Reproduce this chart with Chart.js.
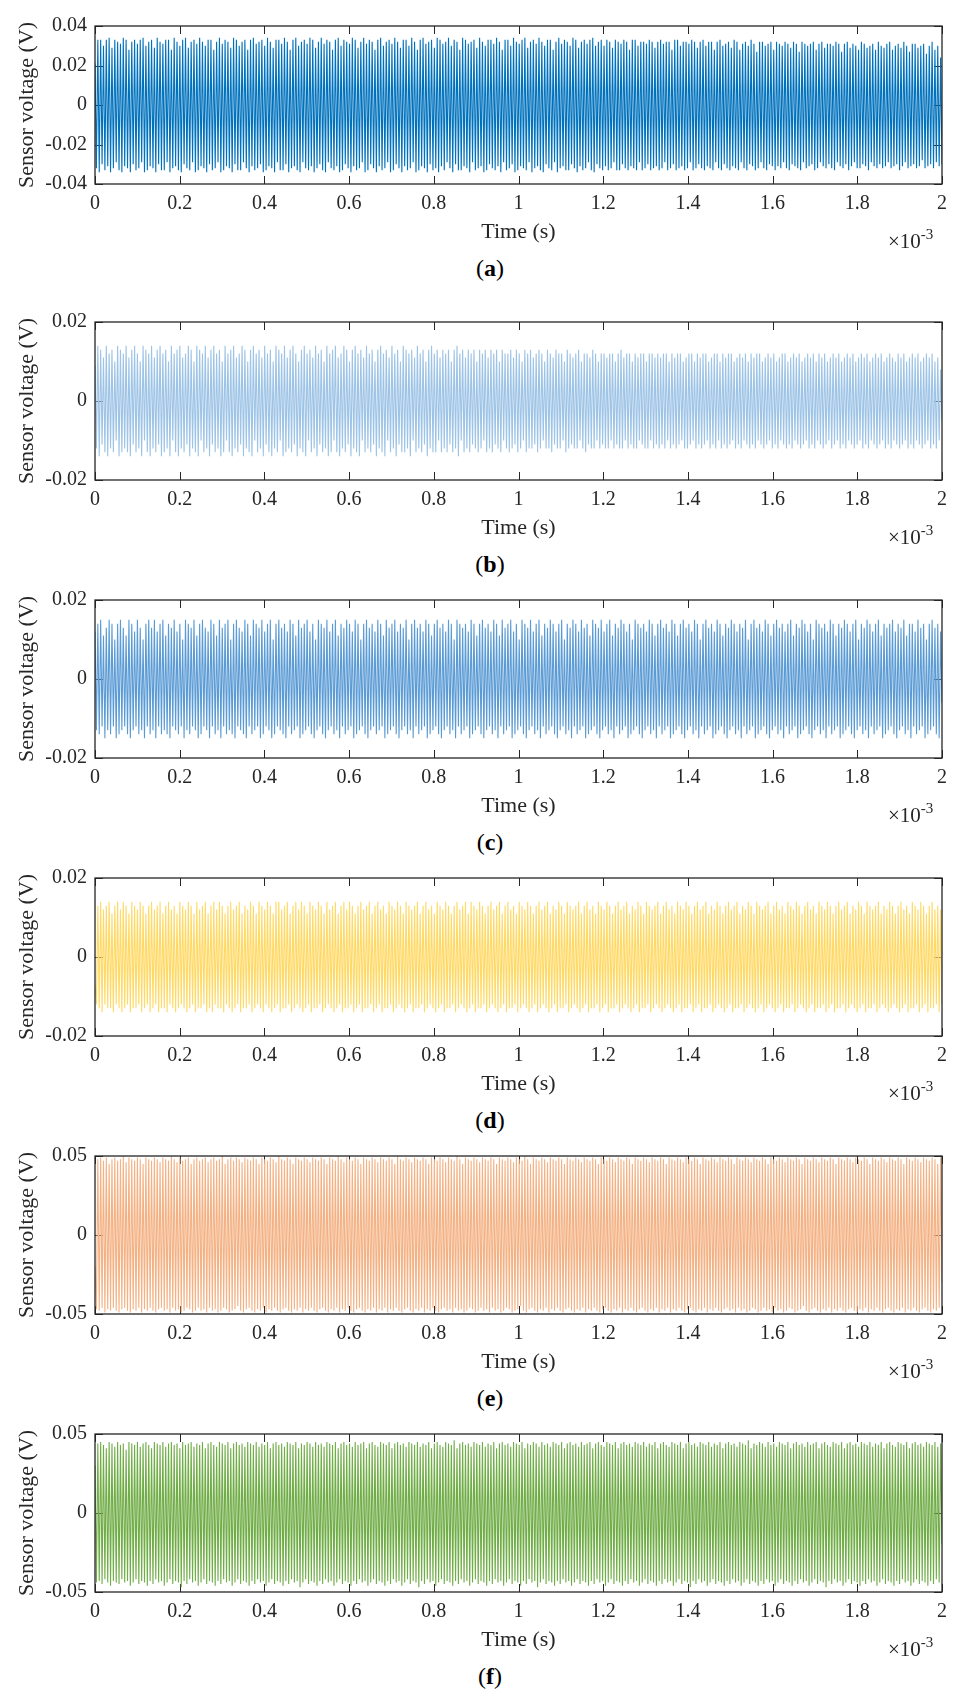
<!DOCTYPE html>
<html>
<head>
<meta charset="utf-8">
<script src="https://cdn.jsdelivr.net/npm/chart.js@4.4.1/dist/chart.umd.min.js"></script>
<style>
  body { margin: 0; background: #fff; width: 955px; height: 1693px; position: relative; overflow: hidden; font-family: 'Liberation Serif', 'Times New Roman', serif; color: #262626; }
  canvas { position: absolute; left: 0; }
  .exp { position: absolute; left: 888px; font-size: 21px; line-height: 24px; }
  .exp sup { font-size: 15px; position: relative; top: -1px; }
  .cap { position: absolute; left: 390px; width: 200px; text-align: center; font-size: 24px; line-height: 28px; color: #000; }
</style>
</head>
<body>
<script>
// time axis in units of 1e-3 s
const timeMax = 2;
const xTicks = [0, 0.2, 0.4, 0.6, 0.8, 1, 1.2, 1.4, 1.6, 1.8, 2];
const yTicksA = [-0.04, -0.02, 0, 0.02, 0.04];
const yTicksSmall = [-0.02, 0, 0.02];
const yTicksBig = [-0.05, 0, 0.05];
const captions = ['a', 'b', 'c', 'd', 'e', 'f'];
const colors = ['#0072BD', '#9DC3E6', '#5B9BD5', '#FFD966', '#F4B183', '#70AD47'];

// peak (hi) and trough (lo) values of each cycle, in mV
const hiA = [21,33,33,30,33,34,29,33,32,31,34,33,28,32,33,31,33,34,30,32,
  33,29,34,32,31,33,33,28,34,32,30,33,34,29,32,33,31,34,32,30,
  33,33,28,32,34,31,33,32,29,34,33,30,32,33,28,33,34,31,32,33,
  30,34,32,29,33,33,31,34,32,28,33,34,30,32,33,31,34,33,29,32,
  34,31,33,32,28,33,34,30,33,32,31,34,33,29,32,34,31,33,32,28,
  33,34,30,32,33,31,34,32,29,33,33,30,34,32,28,33,34,31,32,33,
  29,34,33,31,32,34,30,33,32,28,34,33,31,32,33,29,34,32,30,33,
  33,31,34,32,28,33,33,30,34,32,31,33,34,29,32,33,31,34,32,30,
  33,33,28,32,34,31,33,32,30,34,33,29,32,33,31,33,34,30,32,33,
  30,33,32,29,33,32,31,33,32,28,33,33,30,32,32,31,33,32,29,32,
  33,31,32,32,28,33,33,30,32,32,31,33,32,29,32,33,30,32,32,28,
  32,33,30,31,32,29,33,32,28,31,32,30,33,31,27,32,32,30,31,32,
  28,32,31,30,32,31,29,32,31,27,32,31,30,31,32,28,31,32,29,31,
  31,30,32,31,27,31,32,29,31,30,28,32,31,29,30,31,28,32,30,29,
  31,32,28,30,31,29,32,30,27,31,31,29,30,31,26,30,32,28,30,24];
const loA = [-32,-34,-30,-33,-31,-34,-32,-29,-33,-34,-31,-32,-34,-30,-33,-32,-29,-34,-33,-31,
  -32,-34,-30,-33,-33,-29,-34,-32,-31,-33,-34,-30,-32,-33,-29,-34,-33,-31,-32,-34,
  -30,-33,-32,-29,-34,-33,-31,-32,-34,-30,-33,-33,-29,-32,-34,-31,-33,-32,-30,-34,
  -33,-31,-32,-34,-29,-33,-33,-30,-34,-32,-31,-33,-34,-29,-32,-33,-31,-34,-32,-30,
  -33,-34,-29,-32,-33,-31,-34,-33,-30,-32,-34,-31,-33,-32,-29,-34,-33,-30,-32,-34,
  -31,-33,-32,-29,-34,-33,-30,-32,-34,-31,-33,-32,-29,-34,-33,-31,-32,-34,-30,-33,
  -32,-34,-31,-33,-29,-32,-34,-30,-33,-33,-31,-32,-34,-29,-33,-32,-31,-34,-33,-30,
  -32,-33,-31,-34,-29,-33,-32,-30,-34,-33,-31,-32,-33,-29,-34,-32,-31,-33,-34,-30,
  -32,-33,-29,-34,-32,-31,-33,-33,-30,-32,-34,-31,-33,-32,-29,-33,-34,-30,-32,-33,
  -31,-33,-32,-29,-33,-33,-30,-32,-33,-31,-32,-33,-29,-33,-32,-30,-33,-32,-31,-33,
  -32,-29,-33,-32,-30,-33,-32,-31,-33,-32,-29,-33,-32,-30,-32,-33,-31,-32,-33,-29,
  -32,-33,-30,-32,-33,-31,-32,-33,-29,-32,-33,-30,-31,-33,-32,-29,-32,-33,-30,-31,
  -33,-31,-32,-29,-32,-33,-30,-31,-32,-33,-29,-32,-31,-30,-33,-32,-29,-31,-32,-30,
  -32,-33,-29,-31,-32,-30,-33,-31,-29,-32,-32,-30,-31,-33,-29,-31,-32,-30,-32,-31,
  -29,-32,-31,-30,-33,-31,-29,-32,-31,-30,-32,-31,-28,-32,-31,-30,-32,-29,-31,-30];

const hiB = [9,14,13,11,14,12,13,10,14,13,12,14,11,13,14,12,10,14,13,12,
  14,11,13,14,12,13,10,14,12,13,14,11,12,14,13,10,14,13,12,14,
  11,13,14,12,13,10,14,12,13,14,11,12,14,13,10,13,14,12,13,11,
  14,12,13,10,14,13,12,14,11,13,14,12,10,13,14,12,13,11,14,12,
  13,10,14,12,13,14,11,12,14,13,10,13,14,12,13,11,14,12,13,10,
  13,14,12,13,11,14,12,13,10,14,13,12,13,11,14,12,13,10,13,14,
  12,13,11,13,12,13,10,13,14,12,13,11,13,12,13,10,13,12,13,11,
  13,12,13,10,13,12,12,13,11,13,12,10,13,12,13,11,12,13,12,10,
  13,12,11,13,12,12,10,13,12,11,12,13,10,12,12,11,13,12,10,12,
  12,11,12,12,10,12,13,11,12,12,10,12,11,12,12,10,12,12,11,12,
  11,12,12,10,12,11,12,12,10,11,12,12,10,12,11,12,12,10,11,12,
  12,10,12,11,12,12,10,11,12,11,12,10,12,11,12,12,10,11,12,11,
  12,10,11,12,12,10,11,12,11,12,10,11,12,11,12,10,12,11,12,10,
  11,12,11,12,10,11,12,11,12,10,11,12,11,12,10,11,12,11,12,10,
  11,12,11,10,12,11,12,10,11,12,11,12,10,11,12,11,12,10,11,8];
const loB = [-12,-14,-11,-13,-14,-12,-13,-10,-14,-13,-12,-13,-14,-11,-13,-12,-14,-10,-13,-14,
  -12,-13,-11,-14,-13,-12,-14,-10,-13,-14,-12,-13,-11,-14,-12,-13,-14,-10,-13,-12,
  -14,-11,-13,-12,-14,-13,-10,-13,-14,-12,-13,-11,-14,-12,-13,-14,-10,-13,-12,-14,
  -11,-13,-14,-12,-13,-10,-14,-13,-12,-13,-11,-14,-12,-13,-14,-10,-13,-12,-14,-11,
  -13,-12,-14,-13,-10,-13,-14,-12,-13,-11,-14,-12,-13,-14,-10,-13,-12,-13,-11,-14,
  -12,-13,-14,-10,-13,-12,-14,-11,-13,-13,-12,-14,-10,-13,-12,-13,-11,-14,-12,-13,
  -13,-10,-13,-12,-13,-11,-13,-12,-14,-10,-13,-12,-13,-11,-12,-13,-12,-10,-13,-12,
  -13,-11,-12,-13,-10,-12,-13,-12,-11,-13,-12,-10,-13,-12,-12,-11,-13,-12,-10,-12,
  -12,-13,-11,-12,-12,-10,-13,-12,-11,-12,-12,-10,-12,-13,-11,-12,-12,-10,-12,-11,
  -12,-12,-10,-12,-11,-12,-12,-10,-12,-11,-12,-12,-10,-11,-12,-12,-10,-12,-11,-12,
  -11,-12,-10,-12,-11,-12,-11,-10,-12,-12,-11,-10,-12,-11,-12,-11,-10,-12,-11,-12,
  -10,-12,-11,-12,-11,-10,-12,-11,-12,-10,-11,-12,-11,-12,-10,-11,-12,-11,-10,-12,
  -11,-12,-10,-11,-12,-11,-12,-10,-11,-12,-11,-10,-12,-11,-12,-10,-11,-12,-11,-10,
  -12,-11,-10,-12,-11,-12,-10,-11,-12,-11,-10,-12,-11,-12,-10,-11,-12,-11,-10,-12,
  -11,-12,-10,-11,-12,-11,-10,-12,-11,-12,-10,-11,-12,-11,-10,-12,-11,-12,-10,-5];

const hiC = [12,14,15,11,13,15,14,10,14,15,13,11,15,14,12,15,13,10,14,15,
  13,15,12,14,15,11,14,13,15,12,14,10,15,14,13,15,11,14,15,13,
  12,15,14,11,15,13,14,15,10,14,15,13,12,15,14,11,15,14,13,15,
  12,14,15,10,14,15,13,14,12,15,14,11,15,13,14,15,12,14,10,15,
  14,13,15,12,14,15,11,14,13,15,14,12,15,14,10,14,15,13,14,12,
  15,14,11,15,13,14,15,12,14,13,15,10,14,15,13,14,12,15,14,11,
  14,15,13,14,12,15,14,10,15,14,13,14,12,15,14,11,14,15,13,14,
  12,15,14,11,15,13,14,15,12,14,10,15,14,13,15,12,14,15,11,14,
  13,15,14,12,14,15,10,14,13,15,14,12,15,13,14,11,15,14,13,15,
  12,14,15,11,14,13,15,14,12,14,10,15,14,13,14,12,15,14,11,14,
  15,13,14,12,15,14,11,14,15,13,14,12,15,14,10,14,15,13,14,12,
  15,14,11,14,13,15,14,12,14,13,15,10,14,15,13,14,12,15,14,11,
  14,15,13,14,12,14,15,11,14,13,15,14,12,14,10,15,14,13,14,12,
  15,14,11,14,13,15,14,12,14,15,10,14,13,15,14,12,14,15,11,14,
  13,14,15,12,14,13,15,11,14,14,12,15,13,14,10,14,15,13,14,12];
const loC = [-13,-14,-12,-15,-13,-14,-12,-15,-14,-13,-12,-14,-15,-13,-12,-14,-13,-15,-12,-14,
  -13,-15,-12,-14,-13,-14,-15,-12,-13,-14,-12,-15,-13,-14,-12,-13,-15,-14,-12,-13,
  -15,-12,-14,-13,-15,-12,-14,-13,-14,-15,-12,-13,-14,-15,-12,-14,-13,-12,-15,-14,
  -12,-13,-15,-14,-12,-13,-14,-15,-12,-14,-13,-12,-15,-14,-13,-12,-14,-15,-13,-12,
  -14,-15,-13,-12,-14,-13,-15,-12,-14,-13,-12,-15,-14,-13,-12,-14,-15,-13,-12,-14,
  -13,-12,-15,-14,-13,-12,-14,-15,-13,-12,-14,-13,-15,-12,-14,-13,-12,-15,-14,-13,
  -12,-14,-15,-13,-12,-14,-13,-15,-12,-14,-13,-12,-15,-14,-13,-12,-14,-15,-13,-12,
  -14,-13,-15,-12,-14,-13,-12,-15,-14,-13,-12,-14,-15,-13,-12,-14,-13,-15,-12,-14,
  -13,-12,-14,-15,-13,-12,-14,-13,-15,-12,-14,-13,-12,-15,-14,-13,-12,-14,-15,-13,
  -12,-14,-13,-15,-12,-14,-13,-12,-15,-14,-13,-12,-14,-15,-13,-12,-14,-13,-15,-12,
  -14,-13,-12,-15,-14,-13,-12,-14,-15,-13,-12,-14,-13,-15,-12,-14,-13,-12,-15,-14,
  -13,-12,-14,-15,-13,-12,-14,-13,-15,-12,-14,-13,-12,-15,-14,-13,-12,-14,-15,-13,
  -12,-14,-13,-15,-12,-14,-13,-12,-15,-14,-13,-12,-14,-15,-13,-12,-14,-13,-15,-12,
  -14,-13,-12,-15,-14,-13,-12,-14,-15,-13,-12,-14,-13,-15,-12,-14,-13,-12,-15,-14,
  -13,-12,-14,-15,-13,-12,-14,-13,-15,-12,-14,-13,-12,-15,-14,-13,-12,-14,-15,-6];

const hiD = [-7,13,14,12,13,14,11,13,14,12,14,13,11,14,13,12,14,13,11,13,
  14,12,13,14,11,13,14,12,13,11,14,13,12,14,13,11,14,12,13,14,
  11,13,14,12,14,13,11,13,14,12,13,14,11,13,12,14,13,11,14,13,
  12,14,13,11,14,14,12,13,14,11,13,14,12,14,13,11,14,13,12,14,
  13,11,14,12,13,14,11,13,14,12,14,13,11,13,14,12,13,14,11,13,
  14,12,13,11,14,13,12,14,13,11,14,13,12,13,14,11,13,14,12,13,
  11,14,13,12,14,13,11,13,14,12,13,14,11,14,13,12,14,13,11,13,
  14,12,13,14,11,13,14,12,13,11,14,13,12,14,13,11,13,14,12,13,
  14,11,13,12,14,13,11,14,13,12,13,14,11,13,14,12,13,11,14,13,
  12,14,13,11,13,14,12,13,14,11,13,12,14,13,11,14,13,12,13,14,
  11,13,14,12,13,11,14,13,12,14,13,11,13,14,12,13,14,11,13,12,
  14,13,11,13,14,12,13,14,11,13,12,14,13,11,14,13,12,13,14,11,
  13,14,12,13,11,14,13,12,14,13,11,13,14,12,13,11,14,13,12,14,
  13,11,13,14,12,13,14,11,13,12,14,13,11,14,13,12,13,14,11,13,
  12,14,13,11,13,14,12,13,11,14,13,12,14,13,11,13,14,12,13,12];
const loD = [-12,-13,-14,-12,-13,-13,-14,-12,-13,-14,-13,-12,-14,-13,-13,-12,-14,-13,-12,-14,
  -13,-12,-14,-13,-13,-14,-12,-13,-14,-13,-12,-13,-14,-13,-12,-14,-13,-13,-12,-14,
  -13,-14,-12,-13,-13,-14,-12,-13,-14,-13,-12,-14,-13,-13,-12,-14,-13,-12,-13,-14,
  -12,-13,-14,-13,-12,-14,-13,-13,-12,-14,-13,-12,-13,-14,-13,-12,-14,-13,-13,-12,
  -14,-13,-12,-13,-14,-13,-12,-14,-13,-13,-12,-14,-13,-12,-14,-13,-13,-12,-14,-13,
  -12,-14,-13,-13,-12,-14,-13,-12,-13,-14,-13,-12,-14,-13,-13,-12,-14,-13,-12,-13,
  -14,-13,-12,-14,-13,-13,-12,-14,-13,-12,-13,-14,-13,-12,-14,-13,-13,-12,-14,-13,
  -12,-13,-14,-13,-12,-14,-13,-13,-12,-14,-13,-12,-13,-14,-13,-12,-14,-13,-12,-13,
  -14,-13,-12,-14,-13,-13,-12,-14,-13,-12,-13,-14,-13,-12,-14,-13,-13,-12,-14,-13,
  -12,-14,-13,-13,-12,-14,-13,-12,-13,-14,-13,-12,-14,-13,-13,-12,-14,-13,-12,-13,
  -14,-13,-12,-13,-14,-13,-12,-14,-13,-13,-12,-14,-13,-12,-14,-13,-13,-12,-14,-13,
  -12,-13,-14,-13,-12,-14,-13,-13,-12,-14,-13,-12,-13,-14,-13,-12,-14,-13,-12,-13,
  -14,-13,-12,-14,-13,-13,-12,-14,-13,-12,-13,-14,-13,-12,-14,-13,-13,-12,-14,-13,
  -12,-14,-13,-13,-12,-14,-13,-12,-13,-14,-13,-12,-14,-13,-13,-12,-14,-13,-12,-13,
  -14,-13,-12,-13,-14,-13,-12,-14,-13,-13,-12,-14,-13,-12,-14,-13,-13,-12,-14,-12];

const hiE = [-20,48,49,47,49,45,48,49,47,48,50,46,49,48,47,49,48,45,49,48,
  47,49,48,46,49,48,47,50,48,46,49,47,48,49,45,48,49,47,48,49,
  46,48,49,47,48,50,45,48,49,47,49,48,46,49,48,47,49,48,45,49,
  48,47,49,48,46,50,48,47,49,48,45,49,48,47,49,48,46,49,48,47,
  49,48,45,49,48,47,50,48,46,49,48,47,49,48,45,49,48,47,49,48,
  46,49,48,47,49,48,45,50,48,47,49,48,46,49,48,47,49,48,45,49,
  48,47,49,48,46,49,48,47,50,48,45,49,48,47,49,48,46,49,48,47,
  49,48,45,49,48,47,49,48,46,49,48,47,50,48,45,49,48,47,49,48,
  46,49,48,47,49,48,45,49,48,47,49,48,46,49,48,47,49,48,45,49,
  48,47,49,48,46,49,48,47,49,48,45,49,48,47,49,48,46,49,48,47,
  49,48,45,49,48,47,49,48,46,49,48,47,49,48,45,49,48,47,49,48,
  46,49,48,47,49,48,45,49,48,47,49,48,46,49,48,47,49,48,45,49,
  48,47,49,48,46,49,48,47,49,48,45,49,48,47,49,48,46,49,48,47,
  49,48,45,49,48,47,49,48,46,49,48,47,49,48,45,49,48,47,49,48,
  46,49,48,47,49,48,45,49,48,47,49,48,46,49,48,47,49,48,45,49];
const loE = [-47,-48,-46,-49,-47,-48,-46,-48,-49,-47,-46,-48,-49,-47,-48,-46,-49,-47,-48,-46,
  -48,-49,-47,-46,-48,-47,-49,-46,-48,-47,-49,-48,-46,-47,-49,-48,-46,-48,-47,-49,
  -46,-48,-47,-49,-48,-46,-47,-49,-48,-47,-45,-48,-49,-47,-46,-48,-49,-47,-48,-46,
  -49,-47,-48,-46,-48,-49,-47,-46,-48,-49,-47,-48,-46,-49,-47,-48,-46,-48,-49,-47,
  -46,-48,-49,-47,-48,-46,-49,-47,-48,-46,-48,-49,-47,-46,-48,-49,-47,-48,-46,-49,
  -47,-48,-46,-49,-47,-48,-46,-48,-49,-47,-46,-48,-49,-47,-48,-46,-49,-47,-48,-46,
  -48,-49,-47,-46,-48,-47,-49,-46,-48,-47,-49,-48,-46,-47,-49,-48,-46,-48,-47,-49,
  -46,-48,-47,-49,-48,-46,-47,-49,-48,-47,-45,-48,-49,-47,-46,-48,-49,-47,-48,-46,
  -49,-47,-48,-46,-48,-49,-47,-46,-48,-49,-47,-48,-46,-49,-47,-48,-46,-48,-49,-47,
  -46,-48,-49,-47,-48,-46,-49,-47,-48,-46,-48,-49,-47,-46,-48,-49,-47,-48,-46,-49,
  -47,-48,-46,-49,-47,-48,-46,-48,-49,-47,-46,-48,-49,-47,-48,-46,-49,-47,-48,-46,
  -48,-49,-47,-46,-48,-47,-49,-46,-48,-47,-49,-48,-46,-47,-49,-48,-46,-48,-47,-49,
  -46,-48,-47,-49,-48,-46,-47,-49,-48,-47,-45,-48,-49,-47,-46,-48,-49,-47,-48,-46,
  -49,-47,-48,-46,-48,-49,-47,-46,-48,-49,-47,-48,-46,-49,-47,-48,-46,-48,-49,-47,
  -46,-48,-49,-47,-48,-46,-49,-47,-48,-46,-48,-49,-47,-46,-48,-49,-47,-48,-46,-30];

const hiF = [30,44,45,43,41,45,44,42,45,43,44,40,45,44,43,45,42,44,45,43,
  41,45,44,43,45,42,44,45,43,44,41,45,43,44,45,42,44,43,45,41,
  44,45,43,42,45,44,43,45,41,44,45,43,44,42,45,44,43,45,42,44,
  43,45,41,44,45,43,44,42,45,44,43,45,41,44,43,45,44,42,45,43,
  44,42,45,44,43,45,41,44,45,43,44,42,45,43,44,45,41,44,45,43,
  42,45,44,43,45,41,44,45,43,44,42,45,44,43,45,42,44,43,45,41,
  44,45,43,42,45,44,43,46,41,44,45,43,44,42,45,44,43,45,42,44,
  43,45,41,44,45,43,44,42,45,44,43,45,41,44,43,45,44,42,45,43,
  44,42,45,44,43,45,41,44,45,43,44,42,45,43,44,45,41,44,45,43,
  42,45,44,43,45,41,44,45,43,44,42,45,44,43,45,42,44,43,45,41,
  44,45,43,42,45,44,43,45,41,44,45,43,44,42,45,44,43,45,42,44,
  43,45,41,44,45,43,44,42,45,44,43,46,41,44,43,45,44,42,45,43,
  44,42,45,44,43,45,41,44,45,43,44,42,45,43,44,45,41,44,45,43,
  42,45,44,43,45,41,44,45,43,44,42,45,44,43,45,42,44,43,45,41,
  44,45,43,42,45,44,43,45,41,44,45,43,44,42,45,44,43,45,42,44];
const loF = [-44,-43,-45,-42,-44,-46,-43,-44,-45,-42,-44,-43,-46,-44,-42,-45,-43,-44,-46,-43,
  -45,-42,-44,-43,-46,-44,-42,-45,-43,-44,-47,-43,-45,-42,-44,-43,-46,-44,-42,-45,
  -43,-44,-46,-43,-45,-42,-44,-43,-46,-44,-42,-45,-43,-44,-46,-43,-45,-42,-44,-43,
  -46,-44,-42,-45,-43,-44,-46,-43,-45,-42,-44,-43,-47,-44,-42,-45,-43,-44,-46,-43,
  -45,-42,-44,-43,-46,-44,-42,-45,-43,-44,-46,-43,-45,-42,-44,-43,-46,-44,-42,-45,
  -43,-44,-46,-43,-45,-42,-44,-43,-46,-44,-42,-45,-43,-44,-47,-43,-45,-42,-44,-43,
  -46,-44,-42,-45,-43,-44,-46,-43,-45,-42,-44,-43,-46,-44,-42,-45,-43,-44,-46,-43,
  -45,-42,-44,-43,-46,-44,-42,-45,-43,-44,-46,-43,-45,-42,-44,-43,-47,-44,-42,-45,
  -43,-44,-46,-43,-45,-42,-44,-43,-46,-44,-42,-45,-43,-44,-46,-43,-45,-42,-44,-43,
  -46,-44,-42,-45,-43,-44,-46,-43,-45,-42,-44,-43,-46,-44,-42,-45,-43,-44,-46,-43,
  -45,-42,-44,-43,-46,-44,-42,-45,-43,-44,-47,-43,-45,-42,-44,-43,-46,-44,-42,-45,
  -43,-44,-46,-43,-45,-42,-44,-43,-46,-44,-42,-45,-43,-44,-46,-43,-45,-42,-44,-43,
  -46,-44,-42,-45,-43,-44,-46,-43,-45,-42,-44,-43,-46,-44,-42,-45,-43,-44,-47,-43,
  -45,-42,-44,-43,-46,-44,-42,-45,-43,-44,-46,-43,-45,-42,-44,-43,-46,-44,-42,-45,
  -43,-44,-46,-43,-45,-42,-44,-43,-46,-44,-42,-45,-43,-44,-46,-43,-45,-42,-44,-20];

const panels = [
  { hi: hiA, lo: loA, yTicks: yTicksA, top: 18 },
  { hi: hiB, lo: loB, yTicks: yTicksSmall, top: 314 },
  { hi: hiC, lo: loC, yTicks: yTicksSmall, top: 592 },
  { hi: hiD, lo: loD, yTicks: yTicksSmall, top: 870 },
  { hi: hiE, lo: loE, yTicks: yTicksBig, top: 1148 },
  { hi: hiF, lo: loF, yTicks: yTicksBig, top: 1426 }
];

const plotH = 166;
const padTop = 12;
const axisH = 70;
const axisColor = '#262626';
Chart.defaults.font.family = "'Liberation Serif', 'Times New Roman', serif";

function fmt(v) {
  return String(+v.toFixed(2));
}

// interleave peaks and troughs on an even sample grid
function buildSeries(hi, lo) {
  const n = Math.min(hi.length, lo.length);
  const step = timeMax / (2 * n - 1);
  const pts = [];
  for (let i = 0; i < n; i++) {
    pts.push({ x: 2 * i * step, y: hi[i] / 1000 });
    pts.push({ x: (2 * i + 1) * step, y: lo[i] / 1000 });
  }
  return pts;
}

// MATLAB style inner ticks, drawn under the trace
const innerTicks = {
  id: 'innerTicks',
  beforeDatasetsDraw(chart) {
    const { ctx, chartArea: a, scales: { x, y } } = chart;
    ctx.save();
    ctx.strokeStyle = axisColor;
    ctx.lineWidth = 1;
    ctx.beginPath();
    x.ticks.forEach(t => {
      const px = Math.round(x.getPixelForValue(t.value)) + 0.5;
      ctx.moveTo(px, a.bottom); ctx.lineTo(px, a.bottom - 8);
      ctx.moveTo(px, a.top); ctx.lineTo(px, a.top + 8);
    });
    y.ticks.forEach(t => {
      const py = Math.round(y.getPixelForValue(t.value)) + 0.5;
      ctx.moveTo(a.left, py); ctx.lineTo(a.left + 8, py);
      ctx.moveTo(a.right, py); ctx.lineTo(a.right - 8, py);
    });
    ctx.stroke();
    ctx.restore();
  },
  afterDatasetsDraw(chart) {
    const { ctx, chartArea: a } = chart;
    ctx.save();
    ctx.strokeStyle = axisColor;
    ctx.lineWidth = 1.3;
    ctx.strokeRect(a.left, a.top, a.right - a.left, a.bottom - a.top);
    ctx.restore();
  }
};

panels.forEach((p, i) => {
  const canvas = document.createElement('canvas');
  canvas.width = 955;
  canvas.height = padTop + plotH + axisH;
  canvas.style.top = (p.top - padTop) + 'px';
  document.body.appendChild(canvas);

  const bottom = p.top + plotH;
  const exp = document.createElement('div');
  exp.className = 'exp';
  exp.style.top = (bottom + 39) + 'px';
  exp.innerHTML = '×10<sup>-3</sup>';
  document.body.appendChild(exp);

  const cap = document.createElement('div');
  cap.className = 'cap';
  cap.style.top = (bottom + 70) + 'px';
  cap.innerHTML = '(<b>' + captions[i] + '</b>)';
  document.body.appendChild(cap);

  const yMax = p.yTicks[p.yTicks.length - 1];
  new Chart(canvas.getContext('2d'), {
    type: 'line',
    data: {
      datasets: [{
        data: buildSeries(p.hi, p.lo),
        borderColor: colors[i],
        borderWidth: 1.1,
        borderJoinStyle: 'bevel',
        pointRadius: 0,
        tension: 0,
        fill: false
      }]
    },
    options: {
      responsive: false,
      animation: false,
      events: [],
      parsing: false,
      layout: { padding: { top: padTop, right: 13, left: 0, bottom: 0 } },
      plugins: { legend: { display: false }, tooltip: { enabled: false } },
      scales: {
        x: {
          type: 'linear', min: 0, max: timeMax,
          afterBuildTicks: s => { s.ticks = xTicks.map(v => ({ value: v })); },
          afterFit: s => { s.height = axisH; },
          grid: { display: false, drawTicks: false },
          border: { display: false },
          ticks: { padding: 8, color: axisColor, font: { size: 20 }, maxRotation: 0, autoSkip: false, callback: v => fmt(v) },
          title: { display: true, text: 'Time (s)', color: axisColor, font: { size: 22 }, padding: { top: 0, bottom: 9 } }
        },
        y: {
          type: 'linear', min: -yMax, max: yMax,
          afterBuildTicks: s => { s.ticks = p.yTicks.map(v => ({ value: v })); },
          afterFit: s => { s.width = 95; },
          grid: { display: false, drawTicks: false },
          border: { display: false },
          ticks: { padding: 8, color: axisColor, font: { size: 20 }, callback: v => fmt(v) },
          title: { display: true, text: 'Sensor voltage (V)', color: axisColor, font: { size: 22 }, padding: { top: 14, bottom: 0 } }
        }
      }
    },
    plugins: [innerTicks]
  });
});
</script>
</body>
</html>
